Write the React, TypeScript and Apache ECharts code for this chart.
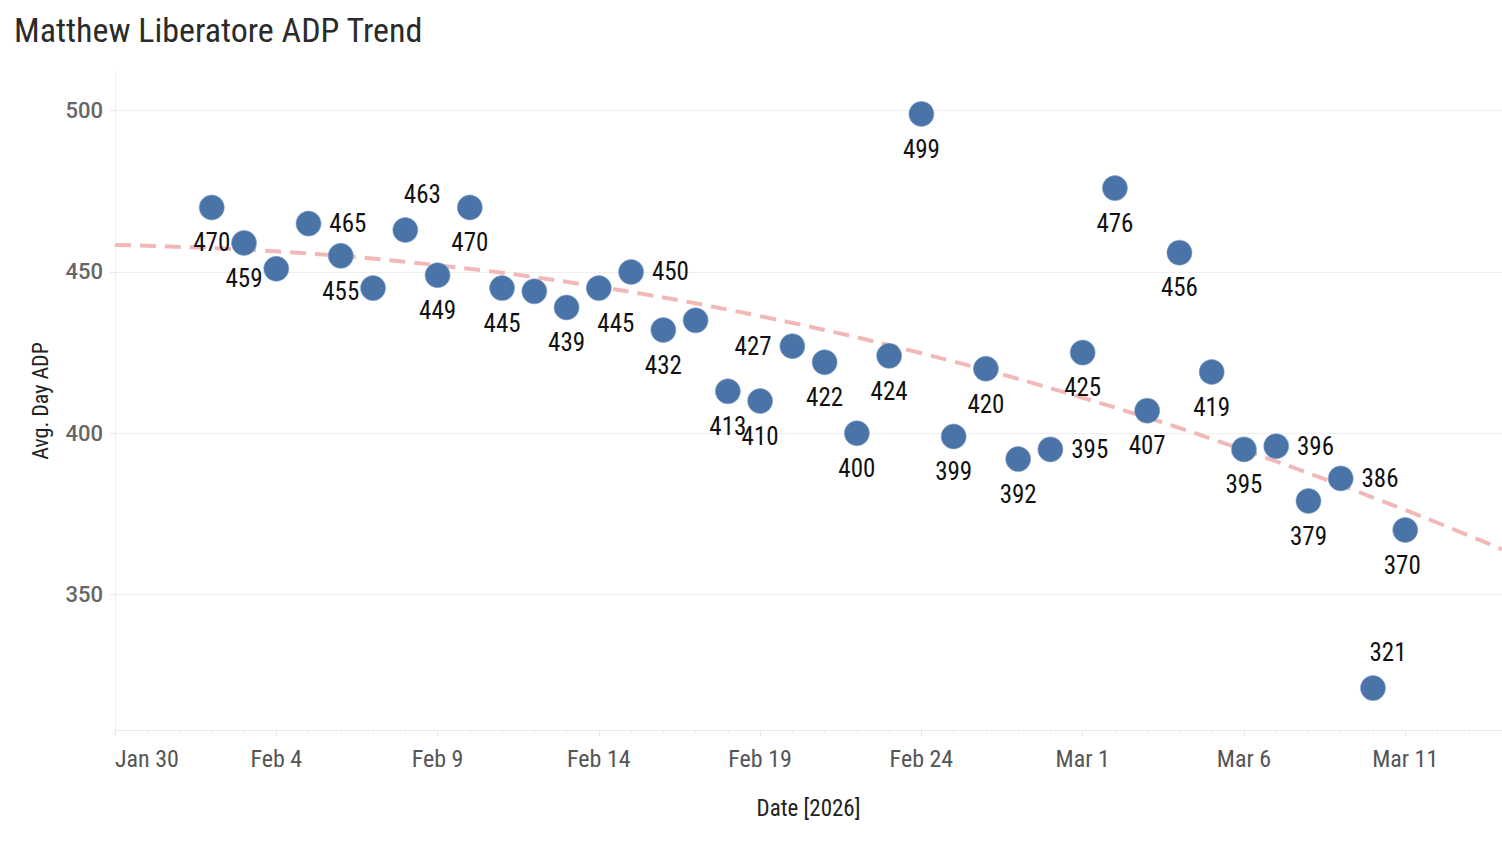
import React, { useEffect, useRef } from "react";
import * as echarts from "echarts";

const titleText = "Matthew Liberatore ADP Trend";
const xAxisTitle = "Date [2026]";
const yAxisTitle = "Avg. Day ADP";
const startDate = "2026-01-30";
const endDate = "2026-03-14";
const xTickLabels = ["Jan 30", "Feb 4", "Feb 9", "Feb 14", "Feb 19", "Feb 24", "Mar 1", "Mar 6", "Mar 11"];

const dates = [
  "2026-02-02", "2026-02-03", "2026-02-04", "2026-02-05", "2026-02-06", "2026-02-07",
  "2026-02-08", "2026-02-09", "2026-02-10", "2026-02-11", "2026-02-12", "2026-02-13",
  "2026-02-14", "2026-02-15", "2026-02-16", "2026-02-17", "2026-02-18", "2026-02-19",
  "2026-02-20", "2026-02-21", "2026-02-22", "2026-02-23", "2026-02-24", "2026-02-25",
  "2026-02-26", "2026-02-27", "2026-02-28", "2026-03-01", "2026-03-02", "2026-03-03",
  "2026-03-04", "2026-03-05", "2026-03-06", "2026-03-07", "2026-03-08", "2026-03-09",
  "2026-03-10", "2026-03-11",
];
const adpValues = [
  470, 459, 451, 465, 455, 445,
  463, 449, 470, 445, 444, 439,
  445, 450, 432, 435, 413, 410,
  427, 422, 400, 424, 499, 399,
  420, 392, 395, 425, 476, 407,
  456, 419, 395, 396, 379, 386,
  321, 370,
];

// trend line
const trendDates = [
  "2026-01-30", "2026-02-04", "2026-02-09", "2026-02-14", "2026-02-19",
  "2026-02-24", "2026-03-01", "2026-03-06", "2026-03-11", "2026-03-14",
];
const trendValues = [458.4, 456.4, 452.1, 445.4, 436.3, 424.8, 411, 394.8, 376.2, 364];

// label placement per point (style only)
const labelPlacement: (string | null)[] = [
  "bottom", "bottom", null, "right", "bottom", null,
  "top", "bottom", "bottom", "bottom", null, "bottom",
  "bottom", "right", "bottom", null, "bottom", "bottom",
  "left", "bottom", "bottom", "bottom", "bottom", "bottom",
  "bottom", "bottom", "right", "bottom", "bottom", "bottom",
  "bottom", "bottom", "bottom", "right", "bottom", "right",
  "top", "bottom",
];
const labelShift: Record<number, [number, number]> = {
  6: [17, 0],
  12: [17, 0],
  36: [15, 0],
  37: [-3, 0],
};

const DAY = 86400000;
const dayOffset = (d: string) => (Date.parse(d) - Date.parse(startDate)) / DAY;

const NARROW = "'Roboto Condensed', Roboto, sans-serif";

export default function App() {
  const ref = useRef<HTMLDivElement>(null);

  useEffect(() => {
    if (!ref.current) return;
    const chart = echarts.init(ref.current, undefined, { renderer: "svg" });

    const scatterData = dates.map((d, i) => {
      const pos = labelPlacement[i];
      return {
        value: [dayOffset(d), adpValues[i]],
        label: pos
          ? {
              show: true,
              position: pos,
              distance: pos === "bottom" || pos === "top" ? 10 : 8,
              offset: labelShift[i] || [0, 0],
            }
          : { show: false },
      };
    });

    const trendData = trendDates.map((d, i) => [dayOffset(d), trendValues[i]]);

    chart.setOption({
      animation: false,
      backgroundColor: "#ffffff",
      title: {
        text: titleText,
        left: 14,
        top: 13,
        padding: 0,
        textStyle: {
          fontFamily: NARROW,
          fontSize: 34,
          fontWeight: "normal",
          color: "#2b2b2b",
        },
      },
      grid: { left: 115, right: 0, top: 72, bottom: 114, containLabel: false },
      xAxis: {
        type: "value",
        min: 0,
        max: dayOffset(endDate),
        interval: 5,
        name: xAxisTitle,
        nameLocation: "middle",
        nameGap: 67,
        nameTextStyle: { fontFamily: NARROW, fontSize: 23, color: "#222222" },
        axisLine: { show: true, lineStyle: { color: "#ebebeb", width: 1 } },
        axisTick: { show: true, length: 6, lineStyle: { color: "#e6e6e6" } },
        minorTick: { show: true, splitNumber: 5, length: 4, lineStyle: { color: "#eeeeee" } },
        splitLine: { show: false },
        axisLabel: {
          fontFamily: NARROW,
          fontSize: 24,
          color: "#555555",
          margin: 17,
          alignMinLabel: "left",
          showMaxLabel: false,
          formatter: (v: number) => {
            const k = Math.round(v / 5);
            return Math.abs(v - k * 5) < 1e-6 && xTickLabels[k] ? xTickLabels[k] : "";
          },
        },
      },
      yAxis: {
        type: "value",
        min: 308,
        max: 512,
        splitNumber: 4,
        name: yAxisTitle,
        nameLocation: "middle",
        nameGap: 64,
        nameRotate: 90,
        nameTextStyle: { fontFamily: NARROW, fontSize: 22, color: "#222222" },
        axisLine: { show: true, lineStyle: { color: "#efefef", width: 1 } },
        axisTick: { show: true, length: 5, lineStyle: { color: "#e8e8e8" } },
        splitLine: {
          show: true,
          showMinLine: false,
          showMaxLine: false,
          lineStyle: { color: "#efefef", width: 1 },
        },
        axisLabel: {
          fontFamily: "Roboto, sans-serif",
          fontSize: 22,
          fontWeight: 500,
          color: "#666666",
          margin: 12,
          showMinLabel: false,
          showMaxLabel: false,
        },
      },
      series: [
        {
          type: "line",
          data: trendData,
          smooth: 0.4,
          showSymbol: false,
          symbol: "none",
          z: 1,
          lineStyle: { color: "#f2b8b8", width: 4, type: [16, 9] },
          silent: true,
        },
        {
          type: "scatter",
          data: scatterData,
          symbolSize: 25,
          z: 3,
          itemStyle: { color: "#4a74a8", opacity: 1, borderColor: "#7e9ec6", borderWidth: 0.6 },
          label: {
            fontFamily: NARROW,
            fontSize: 25,
            color: "#111111",
            formatter: (p: any) => String(Math.round(p.value[1])),
          },
        },
      ],
    });

    return () => chart.dispose();
  }, []);

  return (
    <>
      <style>{'#root svg text[style*="Condensed"] { font-stretch: condensed !important; }'}</style>
      <div
        ref={ref}
        style={{ position: "fixed", left: 0, top: 0, width: 1502, height: 844 }}
      />
    </>
  );
}
